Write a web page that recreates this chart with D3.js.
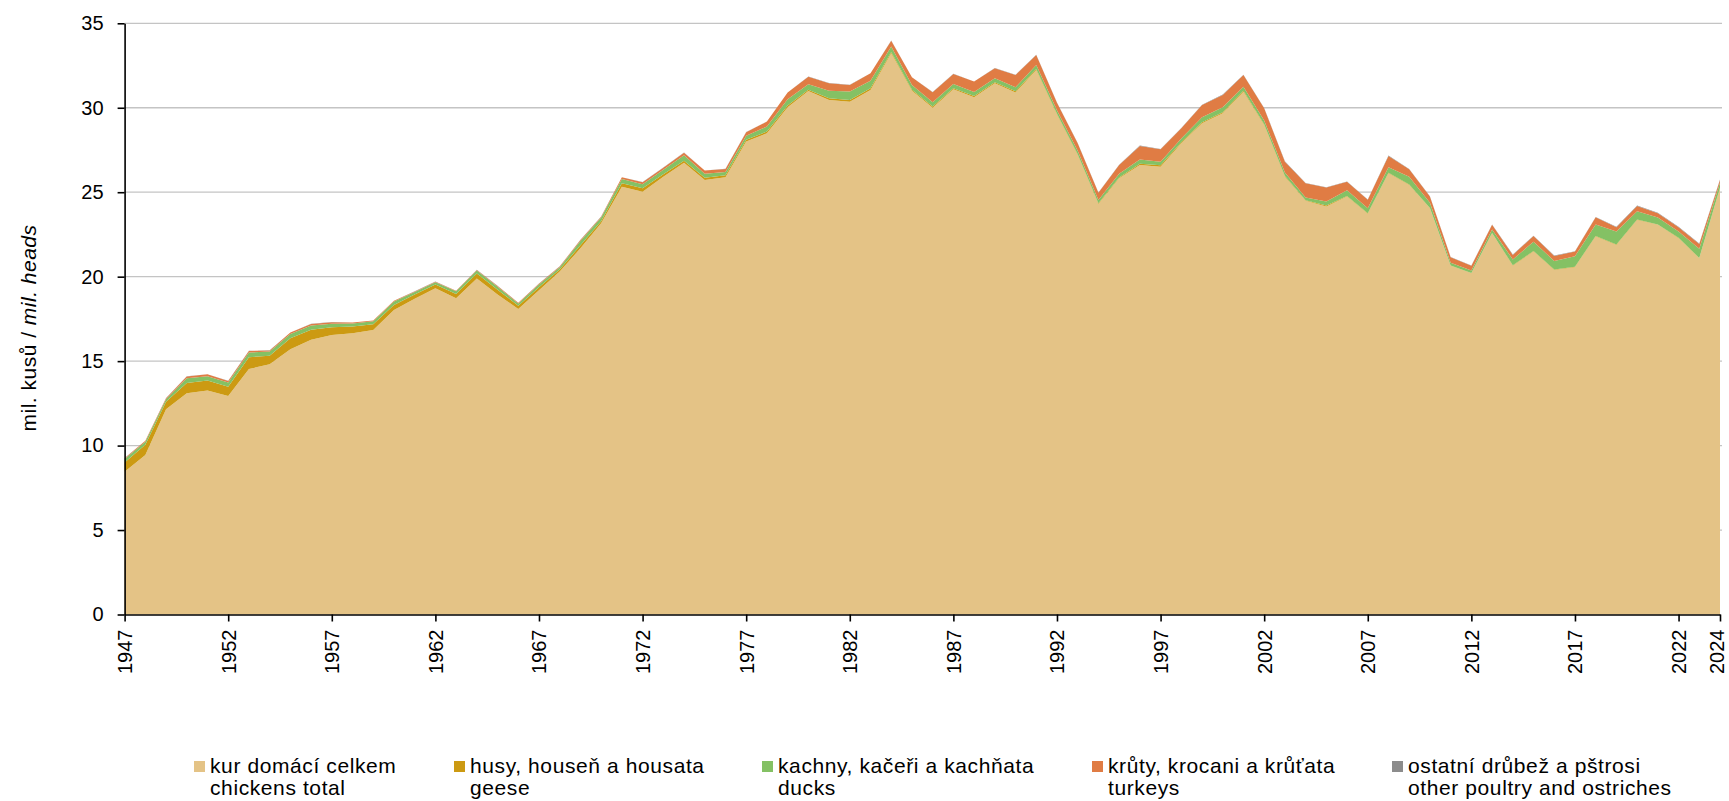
<!DOCTYPE html>
<html>
<head>
<meta charset="utf-8">
<script src="https://cdn.jsdelivr.net/npm/d3@7"></script>
<style>
  body { margin: 0; background: #fff; }
  text { font-family: "Liberation Sans", Arial, sans-serif; fill: #000; }
</style>
</head>
<body>
<div id="plot"></div>
<script>
// Years on x axis
var years = [1947,1948,1949,1950,1951,1952,1953,1954,1955,1956,1957,1958,1959,1960,1961,1962,1963,1964,1965,1966,
  1967,1968,1969,1970,1971,1972,1973,1974,1975,1976,1977,1978,1979,1980,1981,1982,1983,1984,1985,1986,
  1987,1988,1989,1990,1991,1992,1993,1994,1995,1996,1997,1998,1999,2000,2001,2002,2003,2004,2005,2006,
  2007,2008,2009,2010,2011,2012,2013,2014,2015,2016,2017,2018,2019,2020,2021,2022,2023,2024];

// mil. heads per category
var chickens = [8.45,9.45,12.15,13.10,13.26,12.94,14.53,14.82,15.70,16.26,16.55,16.65,16.85,18.03,18.70,19.32,18.72,19.89,18.95,18.08,
  19.20,20.30,21.68,23.16,25.33,25.03,25.92,26.75,25.72,25.88,28.00,28.49,30.03,30.99,30.46,30.36,31.05,33.22,31.00,30.00,
  31.09,30.62,31.45,30.90,32.24,29.60,27.20,24.30,25.82,26.61,26.51,27.90,29.08,29.67,30.95,28.98,25.92,24.49,24.15,24.74,
  23.72,26.12,25.43,24.05,20.64,20.20,22.57,20.64,21.49,20.40,20.56,22.38,21.88,23.36,23.07,22.28,21.09,25.24];

var geese = [0.55,0.60,0.45,0.60,0.60,0.55,0.70,0.50,0.65,0.60,0.45,0.40,0.33,0.30,0.25,0.22,0.25,0.30,0.28,0.20,
  0.18,0.12,0.18,0.12,0.20,0.20,0.15,0.12,0.13,0.12,0.10,0.10,0.10,0.08,0.10,0.10,0.10,0.08,0.07,0.07,
  0.07,0.07,0.06,0.07,0.05,0.05,0.05,0.04,0.05,0.08,0.08,0.06,0.06,0.06,0.05,0.05,0.04,0.04,0.06,0.03,
  0.03,0.03,0.03,0.02,0.02,0.02,0.02,0.03,0.03,0.03,0.03,0.03,0.03,0.02,0.02,0.02,0.02,0.02];

var ducks = [0.20,0.18,0.15,0.28,0.25,0.25,0.28,0.25,0.25,0.25,0.22,0.18,0.18,0.20,0.14,0.13,0.16,0.17,0.18,0.13,
  0.16,0.14,0.25,0.22,0.25,0.24,0.26,0.32,0.25,0.20,0.25,0.30,0.37,0.32,0.45,0.50,0.45,0.32,0.28,0.25,
  0.24,0.24,0.23,0.25,0.24,0.20,0.20,0.20,0.22,0.25,0.22,0.22,0.30,0.30,0.25,0.22,0.20,0.15,0.24,0.35,
  0.30,0.33,0.45,0.30,0.16,0.14,0.20,0.35,0.55,0.50,0.62,0.68,0.76,0.50,0.42,0.38,0.55,0.30];

var turkeys = [0.05,0.05,0.05,0.11,0.11,0.09,0.09,0.06,0.09,0.09,0.08,0.05,0.04,0.04,0.03,0.03,0.03,0.04,0.04,0.04,
  0.04,0.04,0.06,0.05,0.10,0.12,0.12,0.15,0.18,0.18,0.20,0.29,0.40,0.45,0.44,0.39,0.44,0.35,0.45,0.60,
  0.60,0.62,0.60,0.72,0.60,0.45,0.45,0.43,0.52,0.80,0.73,0.60,0.72,0.73,0.69,0.72,0.65,0.85,0.83,0.50,
  0.50,0.67,0.45,0.37,0.33,0.28,0.28,0.27,0.34,0.30,0.28,0.43,0.26,0.31,0.25,0.25,0.28,0.17];

var other = [0.01,0.01,0.01,0.01,0.01,0.01,0.01,0.01,0.01,0.01,0.01,0.01,0.01,0.01,0.01,0.01,0.01,0.01,0.01,0.01,
  0.01,0.01,0.01,0.01,0.01,0.01,0.01,0.01,0.01,0.01,0.01,0.01,0.01,0.01,0.01,0.01,0.01,0.01,0.01,0.01,
  0.01,0.01,0.01,0.01,0.01,0.01,0.01,0.01,0.01,0.02,0.02,0.02,0.02,0.02,0.02,0.02,0.02,0.02,0.02,0.02,
  0.02,0.02,0.02,0.02,0.02,0.02,0.02,0.02,0.02,0.02,0.02,0.02,0.02,0.02,0.02,0.02,0.02,0.02];

var xTicks = [1947,1952,1957,1962,1967,1972,1977,1982,1987,1992,1997,2002,2007,2012,2017,2022,2024];
var yTicks = [0,5,10,15,20,25,30,35];

// series names (two lines each) and colours
var keys = ['chickens','geese','ducks','turkeys','other'];
var namesCz = ['kur domácí celkem','husy, houseň a housata','kachny, kačeři a kachňata','krůty, krocani a krůťata','ostatní drůbež a pštrosi'];
var namesEn = ['chickens total','geese','ducks','turkeys','other poultry and ostriches'];
var colors = ['#e4c386','#cc9a12','#84c164','#e07c44','#8c8c8c'];

// build rows for the stack
var data = years.map(function(yr, i) {
  return {year: yr, chickens: chickens[i], geese: geese[i], ducks: ducks[i], turkeys: turkeys[i], other: other[i]};
});

var W = 1729, H = 801;
var padLeft = 124.6, padTop = 23.3, plotRight = 1720, plotBottom = 614.5;

var svg = d3.select('#plot').append('svg')
  .attr('width', W)
  .attr('height', H);

var x = d3.scaleLinear().domain([1947, 2024]).range([padLeft, plotRight]);
var y = d3.scaleLinear().domain([0, 35]).range([plotBottom, padTop]);

// gridlines
svg.append('g')
  .selectAll('line')
  .data(yTicks.filter(function(d) { return d > 0; }))
  .enter()
  .append('line')
  .attr('x1', padLeft)
  .attr('x2', plotRight + 2)
  .attr('y1', function(d) { return y(d); })
  .attr('y2', function(d) { return y(d); })
  .attr('stroke', '#c4c4c4')
  .attr('stroke-width', 1.3);

// stacked areas
var series = d3.stack().keys(keys)(data);

var area = d3.area()
  .x(function(d) { return x(d.data.year); })
  .y0(function(d) { return y(d[0]); })
  .y1(function(d) { return y(d[1]); });

svg.append('g')
  .selectAll('path')
  .data(series)
  .enter()
  .append('path')
  .attr('d', area)
  .attr('fill', function(d, i) { return colors[i]; });

// y axis
var yAxis = svg.append('g')
  .attr('transform', 'translate(' + padLeft + ',0)')
  .call(d3.axisLeft(y).tickValues(yTicks).tickSize(7).tickSizeOuter(0).tickPadding(14));
yAxis.selectAll('text').style('font-size', '20px');

// x axis
var xAxis = svg.append('g')
  .attr('transform', 'translate(0,' + plotBottom + ')')
  .call(d3.axisBottom(x).tickValues(xTicks).tickFormat(d3.format('d')).tickSize(7).tickSizeOuter(0));
xAxis.selectAll('text')
  .style('font-size', '20px')
  .style('text-anchor', 'end')
  .attr('transform', 'rotate(-90)')
  .attr('x', -15)
  .attr('y', function(d) { return d == 2024 ? -4 : 0; })
  .attr('dy', '0.35em');

svg.selectAll('.domain, .tick line').attr('stroke', '#000').attr('stroke-width', 1.6);

// y axis title
var yt = svg.append('text')
  .attr('transform', 'translate(29,328) rotate(-90)')
  .attr('text-anchor', 'middle')
  .attr('dy', '0.35em')
  .style('font-size', '21px')
  .style('letter-spacing', '0.5px');
yt.append('tspan').text('mil. kusů / ');
yt.append('tspan').style('font-style', 'italic').text('mil. heads');

// legend
var legendX = [194, 454, 762, 1092, 1392];
var legend = svg.append('g')
  .selectAll('g')
  .data(keys)
  .enter()
  .append('g')
  .attr('transform', function(d, i) { return 'translate(' + legendX[i] + ',0)'; });

legend.append('rect')
  .attr('x', 0)
  .attr('y', 761)
  .attr('width', 11)
  .attr('height', 11)
  .attr('fill', function(d, i) { return colors[i]; });

legend.append('text')
  .attr('x', 16)
  .attr('y', 773)
  .style('font-size', '21px')
  .style('letter-spacing', '0.6px')
  .text(function(d, i) { return namesCz[i]; });

legend.append('text')
  .attr('x', 16)
  .attr('y', 795)
  .style('font-size', '21px')
  .style('letter-spacing', '0.6px')
  .text(function(d, i) { return namesEn[i]; });
</script>
</body>
</html>
